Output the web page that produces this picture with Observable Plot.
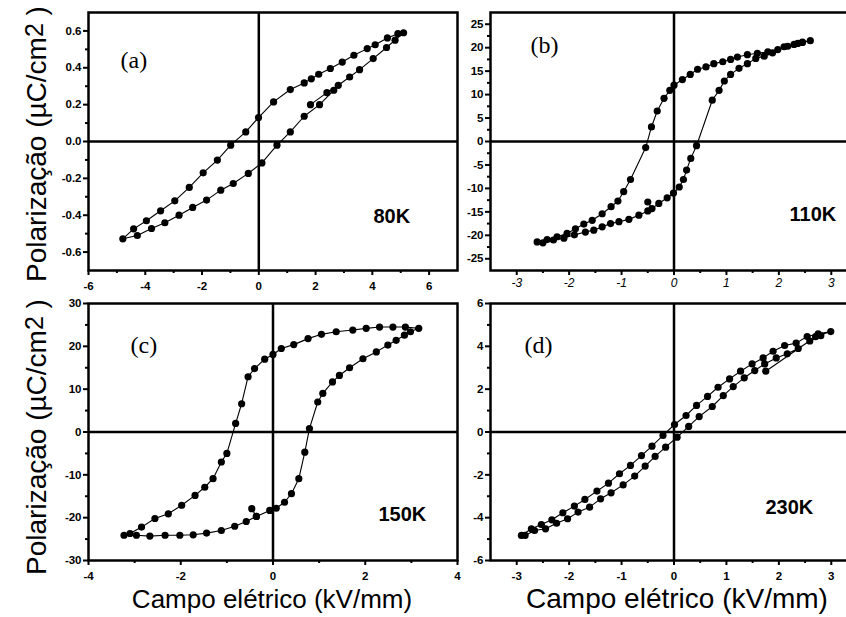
<!DOCTYPE html>
<html><head><meta charset="utf-8">
<script src="https://cdn.jsdelivr.net/npm/d3@7"></script>
<script src="https://cdn.jsdelivr.net/npm/@observablehq/plot@0.6"></script>
<style>
html,body{margin:0;padding:0;background:#fff;overflow:hidden;}
#wrap{position:relative;width:846px;height:617px;overflow:hidden;background:#fff;}
.panel{position:absolute;}
.panel svg{overflow:visible !important;background:transparent !important;max-width:none !important;}
#titles{position:absolute;left:0;top:0;}
</style></head><body><div id="wrap"></div>
<script>
// ---- data (E in kV/mm, P in µC/cm²), in measurement order ----
const aE = [1.82, 2.40, 2.80, 3.20, 3.55, 4.03, 4.50, 4.80, 5.10, 4.90, 4.53, 4.10, 3.82, 3.35, 2.94, 2.52, 2.11, 1.85, 1.60, 1.11, 0.52, -0.01, -0.46, -0.99, -1.46, -1.96, -2.45, -2.96, -3.46, -3.96, -4.41, -4.79, -4.28, -3.78, -3.31, -2.81, -2.33, -1.84, -1.34, -0.90, -0.37, 0.11, 0.64, 1.11, 1.60, 2.14, 2.64];
const aP = [0.20, 0.265, 0.305, 0.35, 0.39, 0.45, 0.51, 0.55, 0.59, 0.585, 0.562, 0.525, 0.504, 0.468, 0.431, 0.396, 0.365, 0.34, 0.318, 0.282, 0.215, 0.130, 0.052, -0.020, -0.101, -0.170, -0.249, -0.322, -0.376, -0.430, -0.474, -0.528, -0.510, -0.472, -0.441, -0.400, -0.358, -0.318, -0.264, -0.228, -0.173, -0.116, -0.020, 0.052, 0.137, 0.200, 0.278];

const bE = [-0.50, -0.42, -0.29, -0.13, -0.01, 0.10, 0.18, 0.24, 0.32, 0.43, 0.73, 0.86, 0.96, 1.08, 1.24, 1.40, 1.56, 1.72, 1.88, 2.10, 2.29, 2.45, 2.60, 2.45, 2.36, 2.17, 1.98, 1.79, 1.59, 1.40, 1.21, 1.08, 0.93, 0.76, 0.61, 0.45, 0.31, 0.16, 0.00, -0.08, -0.19, -0.32, -0.43, -0.54, -0.83, -0.96, -1.07, -1.20, -1.37, -1.56, -1.72, -1.88, -2.04, -2.23, -2.42, -2.61, -2.50, -2.30, -2.10, -1.90, -1.69, -1.53, -1.37, -1.21, -1.05, -0.86, -0.67, -0.50];
const bP = [-12.9, -14.3, -13.2, -12.0, -11.0, -9.7, -8.1, -6.1, -3.6, -0.9, 8.8, 10.9, 12.9, 14.3, 15.6, 16.6, 17.7, 18.2, 18.9, 20.2, 20.7, 21.1, 21.5, 21.2, 20.9, 20.3, 19.6, 19.1, 18.8, 18.5, 18.0, 17.5, 17.0, 16.6, 15.9, 15.4, 14.3, 13.2, 12.0, 10.9, 9.2, 6.5, 3.1, -1.3, -8.1, -10.7, -12.7, -13.9, -15.4, -16.8, -17.6, -18.6, -19.6, -20.3, -20.9, -21.4, -21.6, -21.0, -20.6, -19.9, -19.3, -18.9, -18.2, -17.5, -17.1, -16.6, -15.7, -14.8];

const cE = [-0.46, -0.36, -0.07, 0.07, 0.25, 0.40, 0.56, 0.69, 0.79, 0.97, 1.08, 1.29, 1.44, 1.66, 1.95, 2.24, 2.49, 2.67, 2.85, 2.98, 3.16, 2.87, 2.60, 2.31, 2.02, 1.73, 1.37, 1.05, 0.76, 0.45, 0.18, 0.00, -0.18, -0.40, -0.54, -0.68, -0.81, -1.00, -1.12, -1.30, -1.48, -1.69, -1.98, -2.27, -2.56, -2.85, -3.10, -3.23, -2.96, -2.67, -2.34, -2.02, -1.73, -1.44, -1.12, -0.83, -0.58, -0.36];
const cP = [-17.9, -19.7, -18.3, -17.8, -16.4, -14.4, -10.9, -4.7, 0.8, 7.0, 9.0, 11.7, 13.2, 15.0, 17.1, 18.7, 20.3, 21.4, 22.6, 23.4, 24.2, 24.5, 24.5, 24.5, 24.2, 23.8, 23.4, 22.8, 21.8, 20.4, 19.5, 18.1, 17.0, 14.8, 12.9, 6.6, 2.0, -5.0, -7.0, -10.9, -12.9, -14.8, -17.1, -19.1, -20.2, -22.2, -23.7, -24.1, -24.1, -24.3, -24.1, -24.1, -24.0, -23.6, -23.0, -22.0, -20.9, -19.7];

const dE = [1.75, 2.70, 2.99, 2.75, 2.54, 2.33, 2.11, 1.89, 1.70, 1.49, 1.27, 1.06, 0.84, 0.64, 0.43, 0.23, 0.01, -0.21, -0.42, -0.62, -0.83, -1.04, -1.25, -1.47, -1.70, -1.90, -2.12, -2.33, -2.53, -2.72, -2.91, -2.84, -2.66, -2.45, -2.24, -2.03, -1.83, -1.61, -1.40, -1.20, -0.97, -0.75, -0.55, -0.36, -0.16, 0.06, 0.28, 0.48, 0.73, 0.94, 1.13, 1.34, 1.54, 1.73, 1.95, 2.16, 2.37, 2.59, 2.80];
const dP = [2.84, 4.45, 4.69, 4.58, 4.46, 4.15, 4.04, 3.77, 3.46, 3.18, 2.84, 2.48, 2.09, 1.66, 1.24, 0.77, 0.35, -0.16, -0.66, -1.10, -1.56, -1.95, -2.39, -2.76, -3.15, -3.46, -3.77, -4.10, -4.32, -4.52, -4.83, -4.83, -4.60, -4.52, -4.26, -4.05, -3.74, -3.51, -3.12, -2.84, -2.47, -2.06, -1.59, -1.14, -0.71, -0.24, 0.26, 0.72, 1.19, 1.70, 2.12, 2.53, 2.87, 3.18, 3.46, 3.65, 3.90, 4.25, 4.50];

// ---- ticks ----
const aXTicks = [-6, -4, -2, 0, 2, 4, 6];
const aXMinor = [-5, -3, -1, 1, 3, 5];
const aYTicks = [-0.6, -0.4, -0.2, 0, 0.2, 0.4, 0.6];
const aYMinor = [-0.5, -0.3, -0.1, 0.1, 0.3, 0.5];
const bXTicks = [-3, -2, -1, 0, 1, 2, 3];
const bXMinor = [-2.5, -1.5, -0.5, 0.5, 1.5, 2.5];
const bYTicks = [-25, -20, -15, -10, -5, 0, 5, 10, 15, 20, 25];
const bYMinor = [-22.5, -17.5, -12.5, -7.5, -2.5, 2.5, 7.5, 12.5, 17.5, 22.5];
const cXTicks = [-4, -2, 0, 2, 4];
const cXMinor = [-3, -1, 1, 3];
const cYTicks = [-30, -20, -10, 0, 10, 20, 30];
const cYMinor = [-25, -15, -5, 5, 15, 25];
const dXTicks = [-3, -2, -1, 0, 1, 2, 3];
const dXMinor = [-2.5, -1.5, -0.5, 0.5, 1.5, 2.5];
const dYTicks = [-6, -4, -2, 0, 2, 4, 6];
const dYMinor = [-5, -3, -1, 1, 3, 5];

// ---- texts ----
const panelTags = ["(a)", "(b)", "(c)", "(d)"];
const temps = ["80K", "110K", "150K", "230K"];
const yTitle = "Polarização (µC/cm";
const xTitle = "Campo elétrico (kV/mm)";

// ---- layout ----
const mL = 45, mR = 5, mT = 5, mB = 30;
const SANS = "'Liberation Sans', Arial, Helvetica, sans-serif";
const SERIF = "'Liberation Serif', 'Times New Roman', serif";
const intFmt = d => String(d);
const boldLab = {fontFamily: SANS, fontSize: 11.5, fontWeight: "bold", fontStyle: "normal"};
const italLab = {fontFamily: SANS, fontSize: 12, fontWeight: "normal", fontStyle: "italic"};
const panels = [
  {id:"pa", E:aE, P:aP, xd:[-6,7], yd:[-0.7,0.7], xt:aXTicks, xm:aXMinor, yt:aYTicks, ym:aYMinor, yf:d=>d.toFixed(1),
   left:88, top:12, w:369, h:258, tag:panelTags[0], tdx:32, tdy:38, temp:temps[0], kdx:285, kdy:196, xdy:11, xlab:boldLab},
  {id:"pb", E:bE, P:bP, xd:[-3.5,3.5], yd:[-27.5,27.5], xt:bXTicks, xm:bXMinor, yt:bYTicks, ym:bYMinor, yf:intFmt,
   left:490, top:12, w:367, h:258, tag:panelTags[1], tdx:40, tdy:23, temp:temps[1], kdx:299, kdy:194, xdy:8, xlab:italLab},
  {id:"pc", E:cE, P:cP, xd:[-4,4], yd:[-30,30], xt:cXTicks, xm:cXMinor, yt:cYTicks, ym:cYMinor, yf:intFmt,
   left:88, top:303, w:369, h:257, tag:panelTags[2], tdx:42, tdy:32, temp:temps[2], kdx:290, kdy:203, xdy:11, xlab:boldLab},
  {id:"pd", E:dE, P:dP, xd:[-3.5,3.5], yd:[-6,6], xt:dXTicks, xm:dXMinor, yt:dYTicks, ym:dYMinor, yf:intFmt,
   left:490, top:303, w:367, h:257, tag:panelTags[3], tdx:34, tdy:32, temp:temps[3], kdx:275, kdy:196, xdy:11, xlab:boldLab}
];

const wrap = document.getElementById("wrap");
for (const p of panels) {
  const pts = p.E.map((e, i) => [e, p.P[i]]);
  const fig = Plot.plot({
    width: mL + p.w + mR, height: mT + p.h + mB,
    marginLeft: mL, marginRight: mR, marginTop: mT, marginBottom: mB,
    x: {domain: p.xd, axis: null}, y: {domain: p.yd, axis: null},
    style: {background: "transparent", fontFamily: SANS, fontSize: "10px", color: "black", overflow: "visible"},
    marks: [
      Plot.ruleX([0], {stroke: "black", strokeWidth: 2.5}),
      Plot.ruleY([0], {stroke: "black", strokeWidth: 2.5}),
      Plot.line(pts, {stroke: "black", strokeWidth: 1.1}),
      Plot.dot(pts, {r: 3.6, fill: "black", stroke: "none"}),
      Plot.frame({stroke: "black", strokeWidth: 2.5}),
      // outward tick marks (major 5px, minor 3px)
      Plot.tickX(p.xt, {x: d => d, insetTop: p.h, insetBottom: -5, stroke: "black", strokeWidth: 2}),
      Plot.tickX(p.xm, {x: d => d, insetTop: p.h, insetBottom: -3, stroke: "black", strokeWidth: 2}),
      Plot.tickY(p.yt, {y: d => d, insetLeft: -5, insetRight: p.w, stroke: "black", strokeWidth: 2}),
      Plot.tickY(p.ym, {y: d => d, insetLeft: -3, insetRight: p.w, stroke: "black", strokeWidth: 2}),
      // tick labels
      Plot.text(p.xt, {x: d => d, text: intFmt, frameAnchor: "bottom", lineAnchor: "top", textAnchor: "middle", dy: p.xdy, fill: "black", ...p.xlab}),
      Plot.text(p.yt, {y: d => d, text: p.yf, frameAnchor: "left", lineAnchor: "middle", textAnchor: "end", dx: -7, fill: "black", ...boldLab}),
      // panel tag and temperature
      Plot.text([p.tag], {text: d => d, frameAnchor: "top-left", textAnchor: "start", lineAnchor: "top", dx: p.tdx, dy: p.tdy,
        fontFamily: SERIF, fontSize: 24, fontWeight: "normal", fill: "black"}),
      Plot.text([p.temp], {text: d => d, frameAnchor: "top-left", textAnchor: "start", lineAnchor: "top", dx: p.kdx, dy: p.kdy,
        fontFamily: SANS, fontSize: 20, fontWeight: "bold", fill: "black"})
    ]
  });
  const div = document.createElement("div");
  div.className = "panel";
  div.id = p.id;
  div.style.left = (p.left - mL) + "px";
  div.style.top = (p.top - mT) + "px";
  div.appendChild(fig);
  wrap.appendChild(div);
}

// ---- axis titles ----
const svg = d3.select(wrap).append("svg").attr("id", "titles")
  .attr("width", 846).attr("height", 617)
  .style("font-family", SANS);
for (const cy of [144, 437]) {
  const t = svg.append("text").attr("transform", `translate(46,${cy}) rotate(-90)`)
    .attr("text-anchor", "middle").attr("font-size", 28).attr("fill", "black");
  t.append("tspan").text(yTitle);
  t.append("tspan").attr("font-size", 25).attr("dy", -3).text("2");
  t.append("tspan").attr("dy", 3).text(" )");
}
svg.append("text").attr("x", 272).attr("y", 608).attr("text-anchor", "middle")
  .attr("font-size", 26).attr("fill", "black").text(xTitle);
svg.append("text").attr("x", 677).attr("y", 608).attr("text-anchor", "middle")
  .attr("font-size", 28).attr("fill", "black").text(xTitle);
</script>
</body></html>
